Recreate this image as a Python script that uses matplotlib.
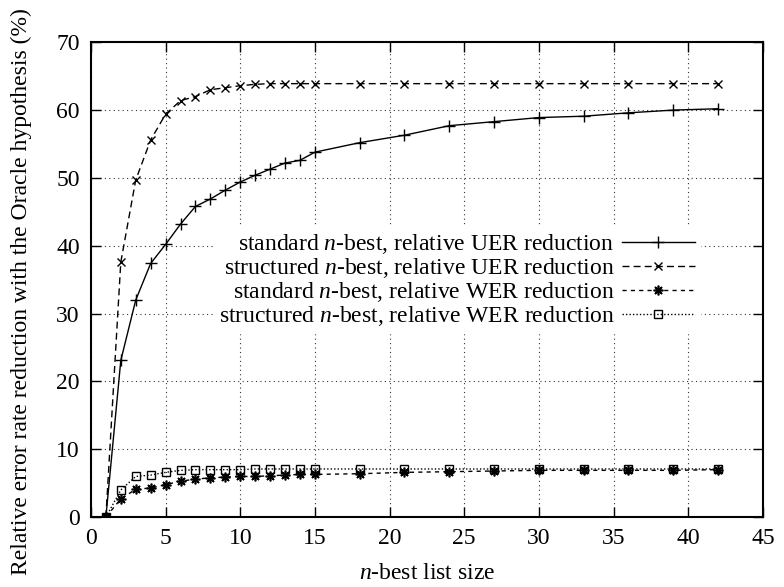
import matplotlib
matplotlib.use("Agg")
import matplotlib.pyplot as plt

# n-best list sizes
n_sizes = [1, 2, 3, 4, 5, 6, 7, 8, 9, 10, 11, 12, 13, 14, 15, 18, 21, 24, 27, 30, 33, 36, 39, 42]

# relative error rate reduction (%)
std_uer = [0, 23.1, 32.0, 37.4, 40.2, 43.2, 45.8, 46.9, 48.2, 49.4, 50.4, 51.3, 52.2, 52.6,
           53.8, 55.2, 56.3, 57.7, 58.3, 58.9, 59.1, 59.6, 60.0, 60.2]
str_uer = [0, 37.6, 49.7, 55.6, 59.4, 61.4, 62.0, 63.0, 63.3, 63.6, 63.8, 63.9, 63.9, 63.9,
           63.9, 63.9, 63.9, 63.9, 63.9, 63.9, 63.9, 63.9, 63.9, 63.9]
std_wer = [0, 2.7, 4.1, 4.3, 4.8, 5.3, 5.6, 5.8, 5.9, 6.0, 6.0, 6.1, 6.2, 6.3,
           6.3, 6.4, 6.6, 6.7, 6.8, 6.9, 6.9, 6.9, 6.9, 7.0]
str_wer = [0, 4.0, 6.0, 6.2, 6.6, 6.9, 7.0, 7.0, 7.0, 7.0, 7.1, 7.1, 7.1, 7.1,
           7.1, 7.1, 7.1, 7.1, 7.1, 7.1, 7.1, 7.1, 7.1, 7.1]

labels = ["standard $n$-best, relative UER reduction",
          "structured $n$-best, relative UER reduction",
          "standard $n$-best, relative WER reduction",
          "structured $n$-best, relative WER reduction"]

plt.rcParams['font.family'] = ['Liberation Serif', 'DejaVu Serif']
plt.rcParams['mathtext.fontset'] = 'custom'
plt.rcParams['mathtext.rm'] = 'Liberation Serif'
plt.rcParams['mathtext.it'] = 'Liberation Serif:italic'
plt.rcParams['font.size'] = 17

fig = plt.figure(figsize=(7.84, 5.87), dpi=100)
ax = fig.add_axes([0.116, 0.119, 0.857, 0.809])

ax.plot(n_sizes, std_uer, color='black', lw=1.0, ls='-', marker='+', ms=8, mew=1.0,
        label=labels[0])
ax.plot(n_sizes, str_uer, color='black', lw=1.0, ls=(0, (5, 3)), marker='x', ms=6, mew=1.0,
        label=labels[1])
ax.plot(n_sizes, std_wer, color='black', lw=1.0, ls=(0, (3, 3)), marker=(8, 2, 0), ms=7, mew=1.2,
        label=labels[2])
ax.plot(n_sizes, str_wer, color='black', lw=1.0, ls=(0, (1, 1.5)), marker='s', ms=6, mew=1.0,
        mfc='none', label=labels[3])

ax.set_xlim(0, 45)
ax.set_ylim(0, 70)
ax.set_xticks(range(0, 46, 5))
ax.set_yticks(range(0, 71, 10))
ax.tick_params(direction='in', length=7, width=1.0, top=True, right=True, pad=8)
for s in ax.spines.values():
    s.set_linewidth(1.5)
ax.grid(True, color='black', ls=(0, (1, 3)), lw=0.8, alpha=0.8)

ax.set_xlabel("$n$-best list size", labelpad=10)
ax.set_ylabel("Relative error rate reduction with the Oracle hypothesis (%)")
# label sits a little below the axes centre, as in the original
ax.yaxis.set_label_coords(-0.088, 0.474)

leg = ax.legend(loc='center right', bbox_to_anchor=(0.906, 0.499), markerfirst=False,
                frameon=True, fancybox=False, framealpha=1, edgecolor='white',
                handlelength=3.1, handletextpad=0.3, labelspacing=0.0, borderpad=0.2,
                borderaxespad=0)

fig.savefig("out.png", dpi=100)
